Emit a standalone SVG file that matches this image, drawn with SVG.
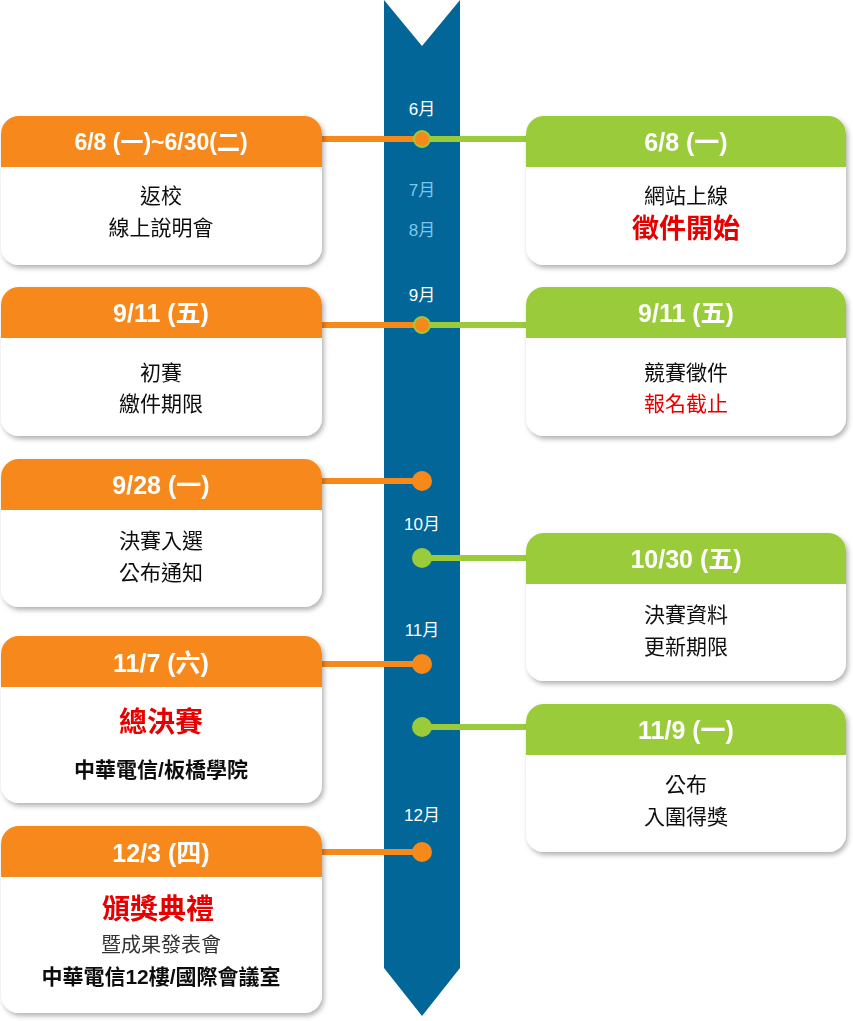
<svg xmlns="http://www.w3.org/2000/svg" width="853" height="1021" viewBox="0 0 853 1021">
<defs>
<filter id="sh" x="-10%" y="-10%" width="125%" height="125%"><feDropShadow dx="2" dy="3" stdDeviation="2.5" flood-color="#000" flood-opacity="0.3"/></filter>
<clipPath id="cl"><rect x="1" y="116" width="321" height="149" rx="18"/></clipPath>
</defs>
<style>
text{font-family:"Liberation Sans","Noto Sans CJK TC",sans-serif;text-anchor:middle}
.hd{fill:#fff;font-size:25px;font-weight:bold}
.bd{fill:#111;font-size:21px}
.red{fill:#e60000;font-weight:bold}
.mo{fill:#fff;font-size:17px}
.mo2{fill:#7cc8ee;font-size:17px}
.o{fill:#f7891b}.g{fill:#9acb3a}
.lo{stroke:#f7891b;stroke-width:6}.lg{stroke:#9acb3a;stroke-width:6}
</style>
<path d="M384 0 L422 46 L460 0 L460 968 L422 1016 L384 968 Z" fill="#036698"/>
<g class="mo"><text x="422" y="115">6月</text><text x="422" y="301">9月</text><text x="422" y="530">10月</text><text x="422" y="636">11月</text><text x="422" y="821">12月</text></g>
<g class="mo2"><text x="422" y="196">7月</text><text x="422" y="236">8月</text></g>
<g id="connectors">
<line class="lo" x1="322" y1="139" x2="422" y2="139"/><line class="lg" x1="422" y1="139" x2="526" y2="139"/>
<circle cx="422" cy="139" r="8" fill="#f7891b" stroke="#9acb3a" stroke-width="2"/>
<line class="lo" x1="322" y1="325" x2="422" y2="325"/><line class="lg" x1="422" y1="325" x2="526" y2="325"/>
<circle cx="422" cy="325" r="8" fill="#f7891b" stroke="#9acb3a" stroke-width="2"/>
<line class="lo" x1="322" y1="481" x2="422" y2="481"/><circle class="o" cx="422" cy="481" r="10"/>
<line class="lg" x1="422" y1="558" x2="526" y2="558"/><circle class="g" cx="422" cy="558" r="10"/>
<line class="lo" x1="322" y1="664" x2="422" y2="664"/><circle class="o" cx="422" cy="664" r="10"/>
<line class="lg" x1="422" y1="727" x2="526" y2="727"/><circle class="g" cx="422" cy="727" r="10"/>
<line class="lo" x1="322" y1="852" x2="422" y2="852"/><circle class="o" cx="422" cy="852" r="10"/>
</g>
<g id="L1" filter="url(#sh)"><rect x="1" y="116" width="321" height="149" rx="18" fill="#fff"/><path d="M1 167 V134 a18 18 0 0 1 18 -18 H304 a18 18 0 0 1 18 18 V167 Z" class="o"/>
<text class="hd" x="161" y="150" style="font-size:23px">6/8 (一)~6/30(二)</text><text class="bd" x="161" y="203">返校</text><text class="bd" x="161" y="235">線上說明會</text></g>
<g id="R1" filter="url(#sh)"><rect x="526" y="116" width="320" height="149" rx="18" fill="#fff"/><path d="M526 167 V134 a18 18 0 0 1 18 -18 H828 a18 18 0 0 1 18 18 V167 Z" class="g"/>
<text class="hd" x="686" y="151">6/8 (一)</text><text class="bd" x="686" y="203">網站上線</text><text class="bd red" x="686" y="238" style="font-size:27px">徵件開始</text></g>
<g id="L2" filter="url(#sh)"><rect x="1" y="287" width="321" height="149" rx="18" fill="#fff"/><path d="M1 338 V305 a18 18 0 0 1 18 -18 H304 a18 18 0 0 1 18 18 V338 Z" class="o"/>
<text class="hd" x="161" y="322">9/11 (五)</text><text class="bd" x="161" y="380">初賽</text><text class="bd" x="161" y="411">繳件期限</text></g>
<g id="R2" filter="url(#sh)"><rect x="526" y="287" width="320" height="149" rx="18" fill="#fff"/><path d="M526 338 V305 a18 18 0 0 1 18 -18 H828 a18 18 0 0 1 18 18 V338 Z" class="g"/>
<text class="hd" x="686" y="322">9/11 (五)</text><text class="bd" x="686" y="380">競賽徵件</text><text class="bd red" x="686" y="411" style="font-weight:normal">報名截止</text></g>
<g id="L3" filter="url(#sh)"><rect x="1" y="459" width="321" height="148" rx="18" fill="#fff"/><path d="M1 510 V477 a18 18 0 0 1 18 -18 H304 a18 18 0 0 1 18 18 V510 Z" class="o"/>
<text class="hd" x="161" y="494">9/28 (一)</text><text class="bd" x="161" y="548">決賽入選</text><text class="bd" x="161" y="580">公布通知</text></g>
<g id="R3" filter="url(#sh)"><rect x="526" y="533" width="320" height="148" rx="18" fill="#fff"/><path d="M526 584 V551 a18 18 0 0 1 18 -18 H828 a18 18 0 0 1 18 18 V584 Z" class="g"/>
<text class="hd" x="686" y="568">10/30 (五)</text><text class="bd" x="686" y="622">決賽資料</text><text class="bd" x="686" y="654">更新期限</text></g>
<g id="L4" filter="url(#sh)"><rect x="1" y="636" width="321" height="167" rx="18" fill="#fff"/><path d="M1 687 V654 a18 18 0 0 1 18 -18 H304 a18 18 0 0 1 18 18 V687 Z" class="o"/>
<text class="hd" x="161" y="672">11/7 (六)</text><text class="bd red" x="161" y="732" style="font-size:28px">總決賽</text><text class="bd" x="161" y="777" style="font-weight:bold">中華電信/板橋學院</text></g>
<g id="R4" filter="url(#sh)"><rect x="526" y="704" width="320" height="148" rx="18" fill="#fff"/><path d="M526 755 V722 a18 18 0 0 1 18 -18 H828 a18 18 0 0 1 18 18 V755 Z" class="g"/>
<text class="hd" x="686" y="739">11/9 (一)</text><text class="bd" x="686" y="792">公布</text><text class="bd" x="686" y="824">入圍得獎</text></g>
<g id="L5" filter="url(#sh)"><rect x="1" y="826" width="321" height="187" rx="18" fill="#fff"/><path d="M1 877 V844 a18 18 0 0 1 18 -18 H304 a18 18 0 0 1 18 18 V877 Z" class="o"/>
<text class="hd" x="161" y="862">12/3 (四)</text><text class="bd red" x="158" y="919" style="font-size:28px">頒獎典禮</text><text class="bd" x="161" y="952" style="font-size:20px;fill:#333">暨成果發表會</text><text class="bd" x="161" y="984" style="font-weight:bold">中華電信12樓/國際會議室</text></g>
</svg>
